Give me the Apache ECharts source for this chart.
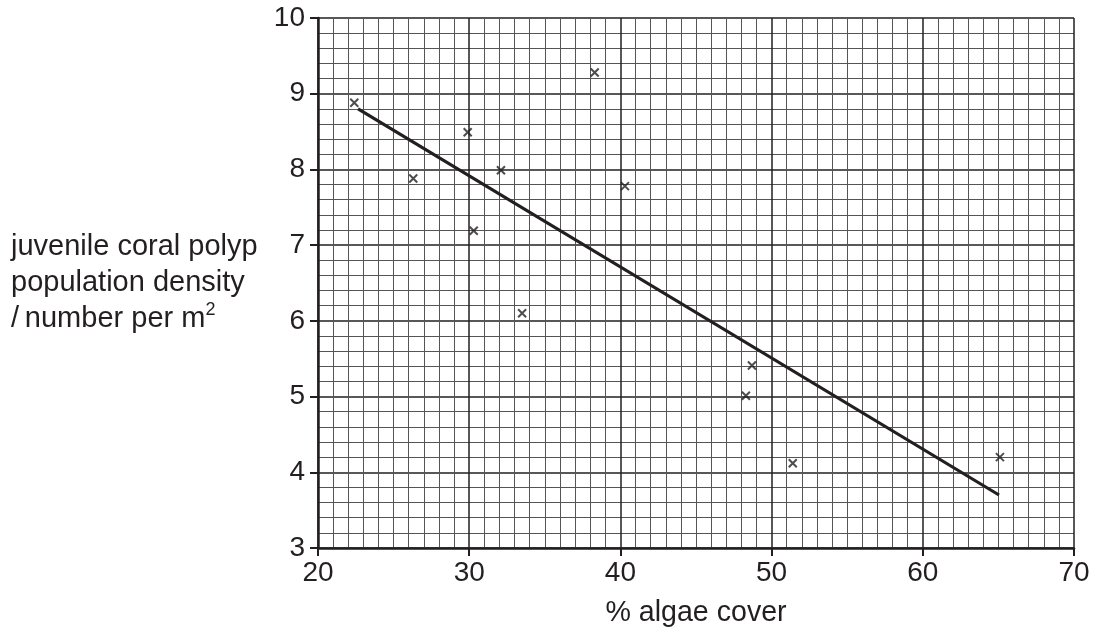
<!DOCTYPE html>
<html>
<head>
<meta charset="utf-8">
<script src="https://cdn.jsdelivr.net/npm/echarts@6/dist/echarts.min.js"></script>
<style>
html,body{margin:0;padding:0;background:#fff;}
#main{width:1096px;height:634px;}
</style>
</head>
<body>
<div id="main"></div>
<script>
var algaeCover = [22.4, 26.3, 29.9, 32.1, 30.3, 38.3, 40.3, 33.5, 48.7, 48.3, 51.4, 65.1];
var polypDensity = [8.88, 7.88, 8.49, 7.99, 7.19, 9.28, 7.78, 6.10, 5.41, 5.01, 4.12, 4.20];
var trendX = [22.65, 65.04];
var trendY = [8.80, 3.70];
var xTicks = [20, 30, 40, 50, 60, 70];
var yTicks = [3, 4, 5, 6, 7, 8, 9, 10];

var points = algaeCover.map(function (x, i) { return [x, polypDensity[i]]; });
var trend = trendX.map(function (x, i) { return [x, trendY[i]]; });

var chart = echarts.init(document.getElementById('main'));
var font = 'Liberation Sans, Arial, Helvetica, sans-serif';
chart.setOption({
  animation: false,
  backgroundColor: '#fff',
  grid: { left: 318, right: 22, top: 18, bottom: 86, containLabel: false },
  xAxis: {
    type: 'value', min: xTicks[0], max: xTicks[xTicks.length - 1], interval: 10,
    name: '% algae cover', nameLocation: 'middle', nameGap: 51,
    nameTextStyle: { fontSize: 28.6, color: '#231f20', fontFamily: font },
    axisLine: { show: true, onZero: false, lineStyle: { color: '#231f20', width: 2.5 } },
    axisTick: { show: true, length: 8, lineStyle: { color: '#231f20', width: 2 } },
    axisLabel: { fontSize: 28, color: '#231f20', fontFamily: font, margin: 11 },
    splitLine: { show: true, lineStyle: { color: '#231f20', width: 1.5 } },
    minorTick: { show: false, splitNumber: 10 },
    minorSplitLine: { show: true, lineStyle: { color: '#555', width: 1 } }
  },
  yAxis: {
    type: 'value', min: yTicks[0], max: yTicks[yTicks.length - 1], interval: 1,
    axisLine: { show: true, onZero: false, lineStyle: { color: '#231f20', width: 2.5 } },
    axisTick: { show: true, length: 8, lineStyle: { color: '#231f20', width: 2 } },
    axisLabel: { fontSize: 28, color: '#231f20', fontFamily: font, margin: 13 },
    splitLine: { show: true, lineStyle: { color: '#231f20', width: 1.5 } },
    minorTick: { show: false, splitNumber: 5 },
    minorSplitLine: { show: true, lineStyle: { color: '#555', width: 1 } }
  },
  graphic: [{
    type: 'text', left: 11, top: 229,
    style: {
      text: 'juvenile coral polyp\npopulation density\n/\u2009number per m{sup|2}',
      fontSize: 29, fontFamily: font, fill: '#231f20', lineHeight: 36,
      rich: { sup: { fontSize: 18, fontFamily: font, verticalAlign: 'top', lineHeight: 26, fill: '#231f20' } }
    }
  }],
  series: [{
    type: 'line', data: trend, symbol: 'none', silent: true,
    lineStyle: { color: '#231f20', width: 3.2 }, z: 3
  }, {
    type: 'scatter', data: points, symbol: 'path://M0,0L10,10M10,0L0,10', symbolSize: 8,
    itemStyle: { color: 'rgba(0,0,0,0)', borderColor: '#231f20', borderWidth: 2 }, z: 4
  }]
});
</script>
</body>
</html>
